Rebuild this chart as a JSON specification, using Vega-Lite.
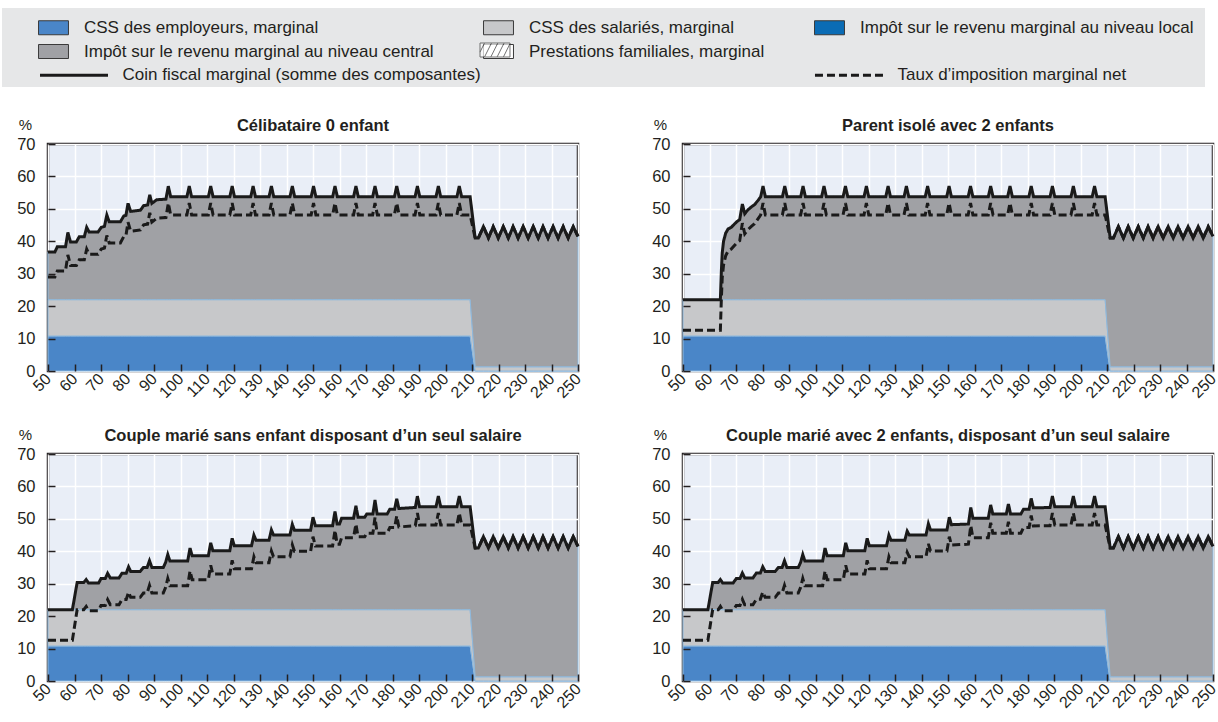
{
"$schema": "https://vega.github.io/schema/vega-lite/v6.json",
"padding": {"left": 2, "top": 8, "right": 4, "bottom": 2},
"background": "#ffffff",
"datasets": {"d": [
{"p":"A","x":50,"emp":10.8,"sal":11.2,"cen":14.7,"tot":36.7,"net":29},
{"p":"A","x":52.6,"emp":10.8,"sal":11.2,"cen":14.7,"tot":36.7,"net":29},
{"p":"A","x":53.5,"emp":10.8,"sal":11.2,"cen":16.3,"tot":38.3,"net":30.8},
{"p":"A","x":56.6,"emp":10.8,"sal":11.2,"cen":16.3,"tot":38.3,"net":30.8},
{"p":"A","x":57.5,"emp":10.8,"sal":11.2,"cen":20.7,"tot":42.7,"net":35.8},
{"p":"A","x":58.5,"emp":10.8,"sal":11.2,"cen":17.8,"tot":39.8,"net":32.5},
{"p":"A","x":60.7,"emp":10.8,"sal":11.2,"cen":17.8,"tot":39.8,"net":32.5},
{"p":"A","x":61.8,"emp":10.8,"sal":11.2,"cen":19.4,"tot":41.4,"net":34.3},
{"p":"A","x":63.7,"emp":10.8,"sal":11.2,"cen":19.4,"tot":41.4,"net":34.3},
{"p":"A","x":64.6,"emp":10.8,"sal":11.2,"cen":22.3,"tot":44.3,"net":37.6},
{"p":"A","x":65.5,"emp":10.8,"sal":11.2,"cen":20.9,"tot":42.9,"net":36},
{"p":"A","x":68.9,"emp":10.8,"sal":11.2,"cen":20.9,"tot":42.9,"net":36},
{"p":"A","x":70.1,"emp":10.8,"sal":11.2,"cen":22.3,"tot":44.3,"net":37.6},
{"p":"A","x":71.3,"emp":10.8,"sal":11.2,"cen":22.6,"tot":44.6,"net":37.9},
{"p":"A","x":72.2,"emp":10.8,"sal":11.2,"cen":26.1,"tot":48.1,"net":41.8},
{"p":"A","x":73.1,"emp":10.8,"sal":11.2,"cen":24,"tot":46,"net":39.5},
{"p":"A","x":77.3,"emp":10.8,"sal":11.2,"cen":24,"tot":46,"net":39.5},
{"p":"A","x":78.6,"emp":10.8,"sal":11.2,"cen":25.8,"tot":47.8,"net":41.5},
{"p":"A","x":79.4,"emp":10.8,"sal":11.2,"cen":26,"tot":48,"net":41.7},
{"p":"A","x":80.2,"emp":10.8,"sal":11.2,"cen":29.7,"tot":51.7,"net":45.9},
{"p":"A","x":81.2,"emp":10.8,"sal":11.2,"cen":27.2,"tot":49.2,"net":43.1},
{"p":"A","x":84.9,"emp":10.8,"sal":11.2,"cen":27.6,"tot":49.6,"net":43.5},
{"p":"A","x":86.1,"emp":10.8,"sal":11.2,"cen":29,"tot":51,"net":45.1},
{"p":"A","x":87.6,"emp":10.8,"sal":11.2,"cen":29.2,"tot":51.2,"net":45.3},
{"p":"A","x":88.4,"emp":10.8,"sal":11.2,"cen":32.3,"tot":54.3,"net":48.8},
{"p":"A","x":89.2,"emp":10.8,"sal":11.2,"cen":29.7,"tot":51.7,"net":45.9},
{"p":"A","x":91,"emp":10.8,"sal":11.2,"cen":30.8,"tot":52.8,"net":47.1},
{"p":"A","x":94.5,"emp":10.8,"sal":11.2,"cen":31,"tot":53,"net":47.3},
{"p":"A","x":95.4,"emp":10.8,"sal":11.2,"cen":35,"tot":57,"net":51.8},
{"p":"A","x":96.3,"emp":10.8,"sal":11.2,"cen":31.7,"tot":53.7,"net":48.1},
{"p":"A","x":102.4,"emp":10.8,"sal":11.2,"cen":31.7,"tot":53.7,"net":48.1},
{"p":"A","x":103.3,"emp":10.8,"sal":11.2,"cen":35,"tot":57,"net":51.8},
{"p":"A","x":104.2,"emp":10.8,"sal":11.2,"cen":31.7,"tot":53.7,"net":48.1},
{"p":"A","x":110.5,"emp":10.8,"sal":11.2,"cen":31.7,"tot":53.7,"net":48.1},
{"p":"A","x":111.4,"emp":10.8,"sal":11.2,"cen":35,"tot":57,"net":51.8},
{"p":"A","x":112.3,"emp":10.8,"sal":11.2,"cen":31.7,"tot":53.7,"net":48.1},
{"p":"A","x":118.6,"emp":10.8,"sal":11.2,"cen":31.7,"tot":53.7,"net":48.1},
{"p":"A","x":119.5,"emp":10.8,"sal":11.2,"cen":35,"tot":57,"net":51.8},
{"p":"A","x":120.4,"emp":10.8,"sal":11.2,"cen":31.7,"tot":53.7,"net":48.1},
{"p":"A","x":126.5,"emp":10.8,"sal":11.2,"cen":31.7,"tot":53.7,"net":48.1},
{"p":"A","x":127.4,"emp":10.8,"sal":11.2,"cen":35,"tot":57,"net":51.8},
{"p":"A","x":128.3,"emp":10.8,"sal":11.2,"cen":31.7,"tot":53.7,"net":48.1},
{"p":"A","x":133.4,"emp":10.8,"sal":11.2,"cen":31.7,"tot":53.7,"net":48.1},
{"p":"A","x":134.3,"emp":10.8,"sal":11.2,"cen":35,"tot":57,"net":51.8},
{"p":"A","x":135.2,"emp":10.8,"sal":11.2,"cen":31.7,"tot":53.7,"net":48.1},
{"p":"A","x":141.3,"emp":10.8,"sal":11.2,"cen":31.7,"tot":53.7,"net":48.1},
{"p":"A","x":142.2,"emp":10.8,"sal":11.2,"cen":35,"tot":57,"net":51.8},
{"p":"A","x":143.1,"emp":10.8,"sal":11.2,"cen":31.7,"tot":53.7,"net":48.1},
{"p":"A","x":149.3,"emp":10.8,"sal":11.2,"cen":31.7,"tot":53.7,"net":48.1},
{"p":"A","x":150.2,"emp":10.8,"sal":11.2,"cen":35,"tot":57,"net":51.8},
{"p":"A","x":151.1,"emp":10.8,"sal":11.2,"cen":31.7,"tot":53.7,"net":48.1},
{"p":"A","x":157.4,"emp":10.8,"sal":11.2,"cen":31.7,"tot":53.7,"net":48.1},
{"p":"A","x":158.3,"emp":10.8,"sal":11.2,"cen":35,"tot":57,"net":51.8},
{"p":"A","x":159.2,"emp":10.8,"sal":11.2,"cen":31.7,"tot":53.7,"net":48.1},
{"p":"A","x":165.3,"emp":10.8,"sal":11.2,"cen":31.7,"tot":53.7,"net":48.1},
{"p":"A","x":166.2,"emp":10.8,"sal":11.2,"cen":35,"tot":57,"net":51.8},
{"p":"A","x":167.1,"emp":10.8,"sal":11.2,"cen":31.7,"tot":53.7,"net":48.1},
{"p":"A","x":172.5,"emp":10.8,"sal":11.2,"cen":31.7,"tot":53.7,"net":48.1},
{"p":"A","x":173.4,"emp":10.8,"sal":11.2,"cen":35,"tot":57,"net":51.8},
{"p":"A","x":174.3,"emp":10.8,"sal":11.2,"cen":31.7,"tot":53.7,"net":48.1},
{"p":"A","x":180.7,"emp":10.8,"sal":11.2,"cen":31.7,"tot":53.7,"net":48.1},
{"p":"A","x":181.6,"emp":10.8,"sal":11.2,"cen":35,"tot":57,"net":51.8},
{"p":"A","x":182.5,"emp":10.8,"sal":11.2,"cen":31.7,"tot":53.7,"net":48.1},
{"p":"A","x":188.5,"emp":10.8,"sal":11.2,"cen":31.7,"tot":53.7,"net":48.1},
{"p":"A","x":189.4,"emp":10.8,"sal":11.2,"cen":35,"tot":57,"net":51.8},
{"p":"A","x":190.3,"emp":10.8,"sal":11.2,"cen":31.7,"tot":53.7,"net":48.1},
{"p":"A","x":196.4,"emp":10.8,"sal":11.2,"cen":31.7,"tot":53.7,"net":48.1},
{"p":"A","x":197.3,"emp":10.8,"sal":11.2,"cen":35,"tot":57,"net":51.8},
{"p":"A","x":198.2,"emp":10.8,"sal":11.2,"cen":31.7,"tot":53.7,"net":48.1},
{"p":"A","x":204.3,"emp":10.8,"sal":11.2,"cen":31.7,"tot":53.7,"net":48.1},
{"p":"A","x":205.2,"emp":10.8,"sal":11.2,"cen":35,"tot":57,"net":51.8},
{"p":"A","x":206.1,"emp":10.8,"sal":11.2,"cen":31.7,"tot":53.7,"net":48.1},
{"p":"A","x":209.3,"emp":10.8,"sal":11.2,"cen":31.7,"tot":53.7,"net":48.1},
{"p":"A","x":211.2,"emp":0,"sal":1.3,"cen":39.7,"tot":41,"net":41},
{"p":"A","x":212.4,"emp":0,"sal":1.3,"cen":39.7,"tot":41,"net":41},
{"p":"A","x":214.3,"emp":0,"sal":1.3,"cen":43.2,"tot":44.5,"net":44.5},
{"p":"A","x":216.2,"emp":0,"sal":1.3,"cen":39.7,"tot":41,"net":41},
{"p":"A","x":218,"emp":0,"sal":1.3,"cen":43.2,"tot":44.5,"net":44.5},
{"p":"A","x":219.9,"emp":0,"sal":1.3,"cen":39.7,"tot":41,"net":41},
{"p":"A","x":221.8,"emp":0,"sal":1.3,"cen":43.2,"tot":44.5,"net":44.5},
{"p":"A","x":223.7,"emp":0,"sal":1.3,"cen":39.7,"tot":41,"net":41},
{"p":"A","x":225.5,"emp":0,"sal":1.3,"cen":43.2,"tot":44.5,"net":44.5},
{"p":"A","x":227.4,"emp":0,"sal":1.3,"cen":39.7,"tot":41,"net":41},
{"p":"A","x":229.3,"emp":0,"sal":1.3,"cen":43.2,"tot":44.5,"net":44.5},
{"p":"A","x":231.2,"emp":0,"sal":1.3,"cen":39.7,"tot":41,"net":41},
{"p":"A","x":233.1,"emp":0,"sal":1.3,"cen":43.2,"tot":44.5,"net":44.5},
{"p":"A","x":235,"emp":0,"sal":1.3,"cen":39.7,"tot":41,"net":41},
{"p":"A","x":236.8,"emp":0,"sal":1.3,"cen":43.2,"tot":44.5,"net":44.5},
{"p":"A","x":238.7,"emp":0,"sal":1.3,"cen":39.7,"tot":41,"net":41},
{"p":"A","x":240.6,"emp":0,"sal":1.3,"cen":43.2,"tot":44.5,"net":44.5},
{"p":"A","x":242.5,"emp":0,"sal":1.3,"cen":39.7,"tot":41,"net":41},
{"p":"A","x":244.4,"emp":0,"sal":1.3,"cen":43.2,"tot":44.5,"net":44.5},
{"p":"A","x":246.3,"emp":0,"sal":1.3,"cen":39.7,"tot":41,"net":41},
{"p":"A","x":248.2,"emp":0,"sal":1.3,"cen":43.2,"tot":44.5,"net":44.5},
{"p":"A","x":250,"emp":0,"sal":1.3,"cen":40.2,"tot":41.5,"net":41.5},

{"p":"B","x":50,"emp":10.8,"sal":11.2,"cen":0,"tot":22,"net":12.6},
{"p":"B","x":64.1,"emp":10.8,"sal":11.2,"cen":0,"tot":22,"net":12.6},
{"p":"B","x":64.5,"emp":10.8,"sal":11.2,"cen":9.2,"tot":31.2,"net":22.9},
{"p":"B","x":64.8,"emp":10.8,"sal":11.2,"cen":14.4,"tot":36.4,"net":28.7},
{"p":"B","x":65.3,"emp":10.8,"sal":11.2,"cen":18,"tot":40,"net":32.7},
{"p":"B","x":66.1,"emp":10.8,"sal":11.2,"cen":20.5,"tot":42.5,"net":35.5},
{"p":"B","x":67,"emp":10.8,"sal":11.2,"cen":21.8,"tot":43.8,"net":37},
{"p":"B","x":68.2,"emp":10.8,"sal":11.2,"cen":22.3,"tot":44.3,"net":37.6},
{"p":"B","x":69.5,"emp":10.8,"sal":11.2,"cen":23.4,"tot":45.4,"net":38.8},
{"p":"B","x":70.4,"emp":10.8,"sal":11.2,"cen":24.1,"tot":46.1,"net":39.6},
{"p":"B","x":71.4,"emp":10.8,"sal":11.2,"cen":24.7,"tot":46.7,"net":40.2},
{"p":"B","x":72.4,"emp":10.8,"sal":11.2,"cen":29.5,"tot":51.5,"net":45.6},
{"p":"B","x":73.3,"emp":10.8,"sal":11.2,"cen":26.5,"tot":48.5,"net":42.3},
{"p":"B","x":74.5,"emp":10.8,"sal":11.2,"cen":27.7,"tot":49.7,"net":43.6},
{"p":"B","x":75.8,"emp":10.8,"sal":11.2,"cen":28.6,"tot":50.6,"net":44.6},
{"p":"B","x":77,"emp":10.8,"sal":11.2,"cen":29.3,"tot":51.3,"net":45.4},
{"p":"B","x":78.3,"emp":10.8,"sal":11.2,"cen":30.6,"tot":52.6,"net":46.9},
{"p":"B","x":79.3,"emp":10.8,"sal":11.2,"cen":31.7,"tot":53.7,"net":48.1},
{"p":"B","x":80.2,"emp":10.8,"sal":11.2,"cen":35,"tot":57,"net":51.8},
{"p":"B","x":81.1,"emp":10.8,"sal":11.2,"cen":31.7,"tot":53.7,"net":48.1},
{"p":"B","x":87.5,"emp":10.8,"sal":11.2,"cen":31.7,"tot":53.7,"net":48.1},
{"p":"B","x":88.4,"emp":10.8,"sal":11.2,"cen":35,"tot":57,"net":51.8},
{"p":"B","x":89.3,"emp":10.8,"sal":11.2,"cen":31.7,"tot":53.7,"net":48.1},
{"p":"B","x":94.4,"emp":10.8,"sal":11.2,"cen":31.7,"tot":53.7,"net":48.1},
{"p":"B","x":95.3,"emp":10.8,"sal":11.2,"cen":35,"tot":57,"net":51.8},
{"p":"B","x":96.2,"emp":10.8,"sal":11.2,"cen":31.7,"tot":53.7,"net":48.1},
{"p":"B","x":102.3,"emp":10.8,"sal":11.2,"cen":31.7,"tot":53.7,"net":48.1},
{"p":"B","x":103.2,"emp":10.8,"sal":11.2,"cen":35,"tot":57,"net":51.8},
{"p":"B","x":104.1,"emp":10.8,"sal":11.2,"cen":31.7,"tot":53.7,"net":48.1},
{"p":"B","x":110.4,"emp":10.8,"sal":11.2,"cen":31.7,"tot":53.7,"net":48.1},
{"p":"B","x":111.3,"emp":10.8,"sal":11.2,"cen":35,"tot":57,"net":51.8},
{"p":"B","x":112.2,"emp":10.8,"sal":11.2,"cen":31.7,"tot":53.7,"net":48.1},
{"p":"B","x":118.3,"emp":10.8,"sal":11.2,"cen":31.7,"tot":53.7,"net":48.1},
{"p":"B","x":119.2,"emp":10.8,"sal":11.2,"cen":35,"tot":57,"net":51.8},
{"p":"B","x":120.1,"emp":10.8,"sal":11.2,"cen":31.7,"tot":53.7,"net":48.1},
{"p":"B","x":126.5,"emp":10.8,"sal":11.2,"cen":31.7,"tot":53.7,"net":48.1},
{"p":"B","x":127.4,"emp":10.8,"sal":11.2,"cen":35,"tot":57,"net":51.8},
{"p":"B","x":128.3,"emp":10.8,"sal":11.2,"cen":31.7,"tot":53.7,"net":48.1},
{"p":"B","x":133.4,"emp":10.8,"sal":11.2,"cen":31.7,"tot":53.7,"net":48.1},
{"p":"B","x":134.3,"emp":10.8,"sal":11.2,"cen":35,"tot":57,"net":51.8},
{"p":"B","x":135.2,"emp":10.8,"sal":11.2,"cen":31.7,"tot":53.7,"net":48.1},
{"p":"B","x":141.4,"emp":10.8,"sal":11.2,"cen":31.7,"tot":53.7,"net":48.1},
{"p":"B","x":142.3,"emp":10.8,"sal":11.2,"cen":35,"tot":57,"net":51.8},
{"p":"B","x":143.2,"emp":10.8,"sal":11.2,"cen":31.7,"tot":53.7,"net":48.1},
{"p":"B","x":149.5,"emp":10.8,"sal":11.2,"cen":31.7,"tot":53.7,"net":48.1},
{"p":"B","x":150.4,"emp":10.8,"sal":11.2,"cen":35,"tot":57,"net":51.8},
{"p":"B","x":151.3,"emp":10.8,"sal":11.2,"cen":31.7,"tot":53.7,"net":48.1},
{"p":"B","x":157.6,"emp":10.8,"sal":11.2,"cen":31.7,"tot":53.7,"net":48.1},
{"p":"B","x":158.5,"emp":10.8,"sal":11.2,"cen":35,"tot":57,"net":51.8},
{"p":"B","x":159.4,"emp":10.8,"sal":11.2,"cen":31.7,"tot":53.7,"net":48.1},
{"p":"B","x":165.2,"emp":10.8,"sal":11.2,"cen":31.7,"tot":53.7,"net":48.1},
{"p":"B","x":166.1,"emp":10.8,"sal":11.2,"cen":35,"tot":57,"net":51.8},
{"p":"B","x":167,"emp":10.8,"sal":11.2,"cen":31.7,"tot":53.7,"net":48.1},
{"p":"B","x":172.5,"emp":10.8,"sal":11.2,"cen":31.7,"tot":53.7,"net":48.1},
{"p":"B","x":173.4,"emp":10.8,"sal":11.2,"cen":35,"tot":57,"net":51.8},
{"p":"B","x":174.3,"emp":10.8,"sal":11.2,"cen":31.7,"tot":53.7,"net":48.1},
{"p":"B","x":180.5,"emp":10.8,"sal":11.2,"cen":31.7,"tot":53.7,"net":48.1},
{"p":"B","x":181.4,"emp":10.8,"sal":11.2,"cen":35,"tot":57,"net":51.8},
{"p":"B","x":182.3,"emp":10.8,"sal":11.2,"cen":31.7,"tot":53.7,"net":48.1},
{"p":"B","x":188.5,"emp":10.8,"sal":11.2,"cen":31.7,"tot":53.7,"net":48.1},
{"p":"B","x":189.4,"emp":10.8,"sal":11.2,"cen":35,"tot":57,"net":51.8},
{"p":"B","x":190.3,"emp":10.8,"sal":11.2,"cen":31.7,"tot":53.7,"net":48.1},
{"p":"B","x":196.4,"emp":10.8,"sal":11.2,"cen":31.7,"tot":53.7,"net":48.1},
{"p":"B","x":197.3,"emp":10.8,"sal":11.2,"cen":35,"tot":57,"net":51.8},
{"p":"B","x":198.2,"emp":10.8,"sal":11.2,"cen":31.7,"tot":53.7,"net":48.1},
{"p":"B","x":204.4,"emp":10.8,"sal":11.2,"cen":31.7,"tot":53.7,"net":48.1},
{"p":"B","x":205.3,"emp":10.8,"sal":11.2,"cen":35,"tot":57,"net":51.8},
{"p":"B","x":206.2,"emp":10.8,"sal":11.2,"cen":31.7,"tot":53.7,"net":48.1},
{"p":"B","x":209.3,"emp":10.8,"sal":11.2,"cen":31.7,"tot":53.7,"net":48.1},
{"p":"B","x":211.2,"emp":0,"sal":1.3,"cen":39.7,"tot":41,"net":41},
{"p":"B","x":212.4,"emp":0,"sal":1.3,"cen":39.7,"tot":41,"net":41},
{"p":"B","x":214.3,"emp":0,"sal":1.3,"cen":43.2,"tot":44.5,"net":44.5},
{"p":"B","x":216.2,"emp":0,"sal":1.3,"cen":39.7,"tot":41,"net":41},
{"p":"B","x":218,"emp":0,"sal":1.3,"cen":43.2,"tot":44.5,"net":44.5},
{"p":"B","x":219.9,"emp":0,"sal":1.3,"cen":39.7,"tot":41,"net":41},
{"p":"B","x":221.8,"emp":0,"sal":1.3,"cen":43.2,"tot":44.5,"net":44.5},
{"p":"B","x":223.7,"emp":0,"sal":1.3,"cen":39.7,"tot":41,"net":41},
{"p":"B","x":225.5,"emp":0,"sal":1.3,"cen":43.2,"tot":44.5,"net":44.5},
{"p":"B","x":227.4,"emp":0,"sal":1.3,"cen":39.7,"tot":41,"net":41},
{"p":"B","x":229.3,"emp":0,"sal":1.3,"cen":43.2,"tot":44.5,"net":44.5},
{"p":"B","x":231.2,"emp":0,"sal":1.3,"cen":39.7,"tot":41,"net":41},
{"p":"B","x":233.1,"emp":0,"sal":1.3,"cen":43.2,"tot":44.5,"net":44.5},
{"p":"B","x":235,"emp":0,"sal":1.3,"cen":39.7,"tot":41,"net":41},
{"p":"B","x":236.8,"emp":0,"sal":1.3,"cen":43.2,"tot":44.5,"net":44.5},
{"p":"B","x":238.7,"emp":0,"sal":1.3,"cen":39.7,"tot":41,"net":41},
{"p":"B","x":240.6,"emp":0,"sal":1.3,"cen":43.2,"tot":44.5,"net":44.5},
{"p":"B","x":242.5,"emp":0,"sal":1.3,"cen":39.7,"tot":41,"net":41},
{"p":"B","x":244.4,"emp":0,"sal":1.3,"cen":43.2,"tot":44.5,"net":44.5},
{"p":"B","x":246.3,"emp":0,"sal":1.3,"cen":39.7,"tot":41,"net":41},
{"p":"B","x":248.2,"emp":0,"sal":1.3,"cen":43.2,"tot":44.5,"net":44.5},
{"p":"B","x":250,"emp":0,"sal":1.3,"cen":40.2,"tot":41.5,"net":41.5},

{"p":"C","x":50,"emp":10.8,"sal":11.2,"cen":0,"tot":22,"net":12.6},
{"p":"C","x":59.2,"emp":10.8,"sal":11.2,"cen":0,"tot":22,"net":12.6},
{"p":"C","x":61,"emp":10.8,"sal":11.2,"cen":8.4,"tot":30.4,"net":22},
{"p":"C","x":63.5,"emp":10.8,"sal":11.2,"cen":8.4,"tot":30.4,"net":22},
{"p":"C","x":64.4,"emp":10.8,"sal":11.2,"cen":9.3,"tot":31.3,"net":23},
{"p":"C","x":65.3,"emp":10.8,"sal":11.2,"cen":8.2,"tot":30.2,"net":21.7},
{"p":"C","x":69.1,"emp":10.8,"sal":11.2,"cen":8.2,"tot":30.2,"net":21.7},
{"p":"C","x":70,"emp":10.8,"sal":11.2,"cen":9.6,"tot":31.6,"net":23.3},
{"p":"C","x":71.6,"emp":10.8,"sal":11.2,"cen":9.6,"tot":31.6,"net":23.3},
{"p":"C","x":72.5,"emp":10.8,"sal":11.2,"cen":11.2,"tot":33.2,"net":25.1},
{"p":"C","x":73.5,"emp":10.8,"sal":11.2,"cen":9.8,"tot":31.8,"net":23.5},
{"p":"C","x":76.8,"emp":10.8,"sal":11.2,"cen":9.8,"tot":31.8,"net":23.5},
{"p":"C","x":77.9,"emp":10.8,"sal":11.2,"cen":11.2,"tot":33.2,"net":25.1},
{"p":"C","x":79.5,"emp":10.8,"sal":11.2,"cen":11.2,"tot":33.2,"net":25.1},
{"p":"C","x":80.4,"emp":10.8,"sal":11.2,"cen":13.2,"tot":35.2,"net":27.4},
{"p":"C","x":81.2,"emp":10.8,"sal":11.2,"cen":11.8,"tot":33.8,"net":25.8},
{"p":"C","x":84.8,"emp":10.8,"sal":11.2,"cen":11.8,"tot":33.8,"net":25.8},
{"p":"C","x":86,"emp":10.8,"sal":11.2,"cen":13,"tot":35,"net":27.1},
{"p":"C","x":87.4,"emp":10.8,"sal":11.2,"cen":13,"tot":35,"net":27.1},
{"p":"C","x":88.3,"emp":10.8,"sal":11.2,"cen":15.1,"tot":37.1,"net":29.5},
{"p":"C","x":89.2,"emp":10.8,"sal":11.2,"cen":13,"tot":35,"net":27.1},
{"p":"C","x":93.5,"emp":10.8,"sal":11.2,"cen":13,"tot":35,"net":27.1},
{"p":"C","x":94.4,"emp":10.8,"sal":11.2,"cen":14.6,"tot":36.6,"net":28.9},
{"p":"C","x":95.2,"emp":10.8,"sal":11.2,"cen":17,"tot":39,"net":31.6},
{"p":"C","x":96,"emp":10.8,"sal":11.2,"cen":15,"tot":37,"net":29.4},
{"p":"C","x":102.7,"emp":10.8,"sal":11.2,"cen":15,"tot":37,"net":29.4},
{"p":"C","x":103.6,"emp":10.8,"sal":11.2,"cen":19,"tot":41,"net":33.9},
{"p":"C","x":104.4,"emp":10.8,"sal":11.2,"cen":16.6,"tot":38.6,"net":31.2},
{"p":"C","x":110.5,"emp":10.8,"sal":11.2,"cen":16.6,"tot":38.6,"net":31.2},
{"p":"C","x":111.4,"emp":10.8,"sal":11.2,"cen":20.6,"tot":42.6,"net":35.7},
{"p":"C","x":112.2,"emp":10.8,"sal":11.2,"cen":18.2,"tot":40.2,"net":33},
{"p":"C","x":118.6,"emp":10.8,"sal":11.2,"cen":18.2,"tot":40.2,"net":33},
{"p":"C","x":119.5,"emp":10.8,"sal":11.2,"cen":22,"tot":44,"net":37.2},
{"p":"C","x":120.3,"emp":10.8,"sal":11.2,"cen":19.7,"tot":41.7,"net":34.6},
{"p":"C","x":126.8,"emp":10.8,"sal":11.2,"cen":19.7,"tot":41.7,"net":34.6},
{"p":"C","x":127.7,"emp":10.8,"sal":11.2,"cen":23,"tot":45,"net":38.3},
{"p":"C","x":128.5,"emp":10.8,"sal":11.2,"cen":21.4,"tot":43.4,"net":36.5},
{"p":"C","x":133.4,"emp":10.8,"sal":11.2,"cen":21.4,"tot":43.4,"net":36.5},
{"p":"C","x":134.3,"emp":10.8,"sal":11.2,"cen":24.6,"tot":46.6,"net":40.1},
{"p":"C","x":135.1,"emp":10.8,"sal":11.2,"cen":23,"tot":45,"net":38.3},
{"p":"C","x":141.3,"emp":10.8,"sal":11.2,"cen":23,"tot":45,"net":38.3},
{"p":"C","x":142.2,"emp":10.8,"sal":11.2,"cen":26.3,"tot":48.3,"net":42},
{"p":"C","x":143,"emp":10.8,"sal":11.2,"cen":24.5,"tot":46.5,"net":40},
{"p":"C","x":149.1,"emp":10.8,"sal":11.2,"cen":24.5,"tot":46.5,"net":40},
{"p":"C","x":150,"emp":10.8,"sal":11.2,"cen":28.5,"tot":50.5,"net":44.5},
{"p":"C","x":150.9,"emp":10.8,"sal":11.2,"cen":25.9,"tot":47.9,"net":41.6},
{"p":"C","x":157.4,"emp":10.8,"sal":11.2,"cen":25.9,"tot":47.9,"net":41.6},
{"p":"C","x":158.3,"emp":10.8,"sal":11.2,"cen":30.3,"tot":52.3,"net":46.5},
{"p":"C","x":159.1,"emp":10.8,"sal":11.2,"cen":26.4,"tot":48.4,"net":42.2},
{"p":"C","x":160,"emp":10.8,"sal":11.2,"cen":26.4,"tot":48.4,"net":42.2},
{"p":"C","x":160.8,"emp":10.8,"sal":11.2,"cen":28.2,"tot":50.2,"net":44.2},
{"p":"C","x":165.3,"emp":10.8,"sal":11.2,"cen":28.2,"tot":50.2,"net":44.2},
{"p":"C","x":166.2,"emp":10.8,"sal":11.2,"cen":32,"tot":54,"net":48.4},
{"p":"C","x":167,"emp":10.8,"sal":11.2,"cen":28.5,"tot":50.5,"net":44.5},
{"p":"C","x":169.5,"emp":10.8,"sal":11.2,"cen":28.5,"tot":50.5,"net":44.5},
{"p":"C","x":170.3,"emp":10.8,"sal":11.2,"cen":29.5,"tot":51.5,"net":45.6},
{"p":"C","x":172.6,"emp":10.8,"sal":11.2,"cen":29.5,"tot":51.5,"net":45.6},
{"p":"C","x":173.4,"emp":10.8,"sal":11.2,"cen":33.8,"tot":55.8,"net":50.4},
{"p":"C","x":174.2,"emp":10.8,"sal":11.2,"cen":29.5,"tot":51.5,"net":45.6},
{"p":"C","x":178,"emp":10.8,"sal":11.2,"cen":29.5,"tot":51.5,"net":45.6},
{"p":"C","x":179,"emp":10.8,"sal":11.2,"cen":31,"tot":53,"net":47.3},
{"p":"C","x":180.8,"emp":10.8,"sal":11.2,"cen":31,"tot":53,"net":47.3},
{"p":"C","x":181.6,"emp":10.8,"sal":11.2,"cen":34.2,"tot":56.2,"net":50.9},
{"p":"C","x":182.4,"emp":10.8,"sal":11.2,"cen":31.2,"tot":53.2,"net":47.5},
{"p":"C","x":188.6,"emp":10.8,"sal":11.2,"cen":31.5,"tot":53.5,"net":47.9},
{"p":"C","x":189.4,"emp":10.8,"sal":11.2,"cen":35,"tot":57,"net":51.8},
{"p":"C","x":190.2,"emp":10.8,"sal":11.2,"cen":31.7,"tot":53.7,"net":48.1},
{"p":"C","x":196.4,"emp":10.8,"sal":11.2,"cen":31.7,"tot":53.7,"net":48.1},
{"p":"C","x":197.3,"emp":10.8,"sal":11.2,"cen":35,"tot":57,"net":51.8},
{"p":"C","x":198.2,"emp":10.8,"sal":11.2,"cen":31.7,"tot":53.7,"net":48.1},
{"p":"C","x":204.3,"emp":10.8,"sal":11.2,"cen":31.7,"tot":53.7,"net":48.1},
{"p":"C","x":205.2,"emp":10.8,"sal":11.2,"cen":35,"tot":57,"net":51.8},
{"p":"C","x":206.1,"emp":10.8,"sal":11.2,"cen":31.7,"tot":53.7,"net":48.1},
{"p":"C","x":209.3,"emp":10.8,"sal":11.2,"cen":31.7,"tot":53.7,"net":48.1},
{"p":"C","x":211.2,"emp":0,"sal":1.3,"cen":39.7,"tot":41,"net":41},
{"p":"C","x":212.4,"emp":0,"sal":1.3,"cen":39.7,"tot":41,"net":41},
{"p":"C","x":214.3,"emp":0,"sal":1.3,"cen":43.2,"tot":44.5,"net":44.5},
{"p":"C","x":216.2,"emp":0,"sal":1.3,"cen":39.7,"tot":41,"net":41},
{"p":"C","x":218,"emp":0,"sal":1.3,"cen":43.2,"tot":44.5,"net":44.5},
{"p":"C","x":219.9,"emp":0,"sal":1.3,"cen":39.7,"tot":41,"net":41},
{"p":"C","x":221.8,"emp":0,"sal":1.3,"cen":43.2,"tot":44.5,"net":44.5},
{"p":"C","x":223.7,"emp":0,"sal":1.3,"cen":39.7,"tot":41,"net":41},
{"p":"C","x":225.5,"emp":0,"sal":1.3,"cen":43.2,"tot":44.5,"net":44.5},
{"p":"C","x":227.4,"emp":0,"sal":1.3,"cen":39.7,"tot":41,"net":41},
{"p":"C","x":229.3,"emp":0,"sal":1.3,"cen":43.2,"tot":44.5,"net":44.5},
{"p":"C","x":231.2,"emp":0,"sal":1.3,"cen":39.7,"tot":41,"net":41},
{"p":"C","x":233.1,"emp":0,"sal":1.3,"cen":43.2,"tot":44.5,"net":44.5},
{"p":"C","x":235,"emp":0,"sal":1.3,"cen":39.7,"tot":41,"net":41},
{"p":"C","x":236.8,"emp":0,"sal":1.3,"cen":43.2,"tot":44.5,"net":44.5},
{"p":"C","x":238.7,"emp":0,"sal":1.3,"cen":39.7,"tot":41,"net":41},
{"p":"C","x":240.6,"emp":0,"sal":1.3,"cen":43.2,"tot":44.5,"net":44.5},
{"p":"C","x":242.5,"emp":0,"sal":1.3,"cen":39.7,"tot":41,"net":41},
{"p":"C","x":244.4,"emp":0,"sal":1.3,"cen":43.2,"tot":44.5,"net":44.5},
{"p":"C","x":246.3,"emp":0,"sal":1.3,"cen":39.7,"tot":41,"net":41},
{"p":"C","x":248.2,"emp":0,"sal":1.3,"cen":43.2,"tot":44.5,"net":44.5},
{"p":"C","x":250,"emp":0,"sal":1.3,"cen":40.2,"tot":41.5,"net":41.5},

{"p":"D","x":50,"emp":10.8,"sal":11.2,"cen":0,"tot":22,"net":12.6},
{"p":"D","x":59.4,"emp":10.8,"sal":11.2,"cen":0,"tot":22,"net":12.6},
{"p":"D","x":61.2,"emp":10.8,"sal":11.2,"cen":8.4,"tot":30.4,"net":22},
{"p":"D","x":63.3,"emp":10.8,"sal":11.2,"cen":8.4,"tot":30.4,"net":22},
{"p":"D","x":64.1,"emp":10.8,"sal":11.2,"cen":9.3,"tot":31.3,"net":23},
{"p":"D","x":65,"emp":10.8,"sal":11.2,"cen":8.2,"tot":30.2,"net":21.7},
{"p":"D","x":68.9,"emp":10.8,"sal":11.2,"cen":8.2,"tot":30.2,"net":21.7},
{"p":"D","x":70.1,"emp":10.8,"sal":11.2,"cen":9.6,"tot":31.6,"net":23.3},
{"p":"D","x":71.5,"emp":10.8,"sal":11.2,"cen":9.6,"tot":31.6,"net":23.3},
{"p":"D","x":72.4,"emp":10.8,"sal":11.2,"cen":11.3,"tot":33.3,"net":25.2},
{"p":"D","x":73.3,"emp":10.8,"sal":11.2,"cen":9.8,"tot":31.8,"net":23.5},
{"p":"D","x":76.4,"emp":10.8,"sal":11.2,"cen":9.8,"tot":31.8,"net":23.5},
{"p":"D","x":77.7,"emp":10.8,"sal":11.2,"cen":11.3,"tot":33.3,"net":25.2},
{"p":"D","x":79.2,"emp":10.8,"sal":11.2,"cen":11.3,"tot":33.3,"net":25.2},
{"p":"D","x":80.1,"emp":10.8,"sal":11.2,"cen":13.2,"tot":35.2,"net":27.4},
{"p":"D","x":81,"emp":10.8,"sal":11.2,"cen":11.8,"tot":33.8,"net":25.8},
{"p":"D","x":84.8,"emp":10.8,"sal":11.2,"cen":11.8,"tot":33.8,"net":25.8},
{"p":"D","x":86,"emp":10.8,"sal":11.2,"cen":13,"tot":35,"net":27.1},
{"p":"D","x":87.4,"emp":10.8,"sal":11.2,"cen":13,"tot":35,"net":27.1},
{"p":"D","x":88.3,"emp":10.8,"sal":11.2,"cen":15.1,"tot":37.1,"net":29.5},
{"p":"D","x":89.2,"emp":10.8,"sal":11.2,"cen":13,"tot":35,"net":27.1},
{"p":"D","x":93.5,"emp":10.8,"sal":11.2,"cen":13,"tot":35,"net":27.1},
{"p":"D","x":94.4,"emp":10.8,"sal":11.2,"cen":14.6,"tot":36.6,"net":28.9},
{"p":"D","x":95.2,"emp":10.8,"sal":11.2,"cen":17,"tot":39,"net":31.6},
{"p":"D","x":96,"emp":10.8,"sal":11.2,"cen":15,"tot":37,"net":29.4},
{"p":"D","x":102.7,"emp":10.8,"sal":11.2,"cen":15,"tot":37,"net":29.4},
{"p":"D","x":103.6,"emp":10.8,"sal":11.2,"cen":19,"tot":41,"net":33.9},
{"p":"D","x":104.4,"emp":10.8,"sal":11.2,"cen":16.6,"tot":38.6,"net":31.2},
{"p":"D","x":110.5,"emp":10.8,"sal":11.2,"cen":16.6,"tot":38.6,"net":31.2},
{"p":"D","x":111.4,"emp":10.8,"sal":11.2,"cen":20.6,"tot":42.6,"net":35.7},
{"p":"D","x":112.2,"emp":10.8,"sal":11.2,"cen":18.2,"tot":40.2,"net":33},
{"p":"D","x":118.6,"emp":10.8,"sal":11.2,"cen":18.2,"tot":40.2,"net":33},
{"p":"D","x":119.5,"emp":10.8,"sal":11.2,"cen":22,"tot":44,"net":37.2},
{"p":"D","x":120.3,"emp":10.8,"sal":11.2,"cen":19.7,"tot":41.7,"net":34.6},
{"p":"D","x":126.8,"emp":10.8,"sal":11.2,"cen":19.7,"tot":41.7,"net":34.6},
{"p":"D","x":127.7,"emp":10.8,"sal":11.2,"cen":23,"tot":45,"net":38.3},
{"p":"D","x":128.5,"emp":10.8,"sal":11.2,"cen":21.4,"tot":43.4,"net":36.5},
{"p":"D","x":133.7,"emp":10.8,"sal":11.2,"cen":21.4,"tot":43.4,"net":36.5},
{"p":"D","x":134.6,"emp":10.8,"sal":11.2,"cen":24.2,"tot":46.2,"net":39.7},
{"p":"D","x":135.4,"emp":10.8,"sal":11.2,"cen":23,"tot":45,"net":38.3},
{"p":"D","x":141.7,"emp":10.8,"sal":11.2,"cen":23,"tot":45,"net":38.3},
{"p":"D","x":142.6,"emp":10.8,"sal":11.2,"cen":26.5,"tot":48.5,"net":42.3},
{"p":"D","x":143.4,"emp":10.8,"sal":11.2,"cen":24.6,"tot":46.6,"net":40.1},
{"p":"D","x":149.6,"emp":10.8,"sal":11.2,"cen":24.6,"tot":46.6,"net":40.1},
{"p":"D","x":150.5,"emp":10.8,"sal":11.2,"cen":28.5,"tot":50.5,"net":44.5},
{"p":"D","x":151.3,"emp":10.8,"sal":11.2,"cen":26.2,"tot":48.2,"net":41.9},
{"p":"D","x":157.7,"emp":10.8,"sal":11.2,"cen":26.4,"tot":48.4,"net":42.2},
{"p":"D","x":158.6,"emp":10.8,"sal":11.2,"cen":31.5,"tot":53.5,"net":47.9},
{"p":"D","x":159.4,"emp":10.8,"sal":11.2,"cen":28.2,"tot":50.2,"net":44.2},
{"p":"D","x":165.2,"emp":10.8,"sal":11.2,"cen":28.2,"tot":50.2,"net":44.2},
{"p":"D","x":166.1,"emp":10.8,"sal":11.2,"cen":32.3,"tot":54.3,"net":48.8},
{"p":"D","x":166.9,"emp":10.8,"sal":11.2,"cen":29.5,"tot":51.5,"net":45.6},
{"p":"D","x":172,"emp":10.8,"sal":11.2,"cen":29.5,"tot":51.5,"net":45.6},
{"p":"D","x":172.8,"emp":10.8,"sal":11.2,"cen":32.6,"tot":54.6,"net":49.1},
{"p":"D","x":173.6,"emp":10.8,"sal":11.2,"cen":29.5,"tot":51.5,"net":45.6},
{"p":"D","x":177.5,"emp":10.8,"sal":11.2,"cen":29.5,"tot":51.5,"net":45.6},
{"p":"D","x":178.5,"emp":10.8,"sal":11.2,"cen":31,"tot":53,"net":47.3},
{"p":"D","x":180.6,"emp":10.8,"sal":11.2,"cen":31,"tot":53,"net":47.3},
{"p":"D","x":181.4,"emp":10.8,"sal":11.2,"cen":34.3,"tot":56.3,"net":51},
{"p":"D","x":182.2,"emp":10.8,"sal":11.2,"cen":31.4,"tot":53.4,"net":47.8},
{"p":"D","x":188.5,"emp":10.8,"sal":11.2,"cen":31.5,"tot":53.5,"net":47.9},
{"p":"D","x":189.4,"emp":10.8,"sal":11.2,"cen":35,"tot":57,"net":51.8},
{"p":"D","x":190.3,"emp":10.8,"sal":11.2,"cen":31.7,"tot":53.7,"net":48.1},
{"p":"D","x":196.4,"emp":10.8,"sal":11.2,"cen":31.7,"tot":53.7,"net":48.1},
{"p":"D","x":197.3,"emp":10.8,"sal":11.2,"cen":35,"tot":57,"net":51.8},
{"p":"D","x":198.2,"emp":10.8,"sal":11.2,"cen":31.7,"tot":53.7,"net":48.1},
{"p":"D","x":204.4,"emp":10.8,"sal":11.2,"cen":31.7,"tot":53.7,"net":48.1},
{"p":"D","x":205.3,"emp":10.8,"sal":11.2,"cen":35,"tot":57,"net":51.8},
{"p":"D","x":206.2,"emp":10.8,"sal":11.2,"cen":31.7,"tot":53.7,"net":48.1},
{"p":"D","x":209.3,"emp":10.8,"sal":11.2,"cen":31.7,"tot":53.7,"net":48.1},
{"p":"D","x":211.2,"emp":0,"sal":1.3,"cen":39.7,"tot":41,"net":41},
{"p":"D","x":212.4,"emp":0,"sal":1.3,"cen":39.7,"tot":41,"net":41},
{"p":"D","x":214.3,"emp":0,"sal":1.3,"cen":43.2,"tot":44.5,"net":44.5},
{"p":"D","x":216.2,"emp":0,"sal":1.3,"cen":39.7,"tot":41,"net":41},
{"p":"D","x":218,"emp":0,"sal":1.3,"cen":43.2,"tot":44.5,"net":44.5},
{"p":"D","x":219.9,"emp":0,"sal":1.3,"cen":39.7,"tot":41,"net":41},
{"p":"D","x":221.8,"emp":0,"sal":1.3,"cen":43.2,"tot":44.5,"net":44.5},
{"p":"D","x":223.7,"emp":0,"sal":1.3,"cen":39.7,"tot":41,"net":41},
{"p":"D","x":225.5,"emp":0,"sal":1.3,"cen":43.2,"tot":44.5,"net":44.5},
{"p":"D","x":227.4,"emp":0,"sal":1.3,"cen":39.7,"tot":41,"net":41},
{"p":"D","x":229.3,"emp":0,"sal":1.3,"cen":43.2,"tot":44.5,"net":44.5},
{"p":"D","x":231.2,"emp":0,"sal":1.3,"cen":39.7,"tot":41,"net":41},
{"p":"D","x":233.1,"emp":0,"sal":1.3,"cen":43.2,"tot":44.5,"net":44.5},
{"p":"D","x":235,"emp":0,"sal":1.3,"cen":39.7,"tot":41,"net":41},
{"p":"D","x":236.8,"emp":0,"sal":1.3,"cen":43.2,"tot":44.5,"net":44.5},
{"p":"D","x":238.7,"emp":0,"sal":1.3,"cen":39.7,"tot":41,"net":41},
{"p":"D","x":240.6,"emp":0,"sal":1.3,"cen":43.2,"tot":44.5,"net":44.5},
{"p":"D","x":242.5,"emp":0,"sal":1.3,"cen":39.7,"tot":41,"net":41},
{"p":"D","x":244.4,"emp":0,"sal":1.3,"cen":43.2,"tot":44.5,"net":44.5},
{"p":"D","x":246.3,"emp":0,"sal":1.3,"cen":39.7,"tot":41,"net":41},
{"p":"D","x":248.2,"emp":0,"sal":1.3,"cen":43.2,"tot":44.5,"net":44.5},
{"p":"D","x":250,"emp":0,"sal":1.3,"cen":40.2,"tot":41.5,"net":41.5}
]},
"columns": 2,
"spacing": {"row": 83, "column": 105},
"bounds": "flush",
"concat": [
{"title": "Célibataire 0 enfant", "width": 530, "height": 227, "data": {"name": "d"},
 "transform": [{"filter": "datum.p == 'A'"}],
 "resolve": {"axis": {"x": "independent", "y": "independent"}},
 "layer": [
  {"transform": [{"fold": ["emp","sal","cen"], "as": ["k","v"]},
    {"lookup": "k", "from": {"data": {"values": [{"k":"emp","serie":"CSS des employeurs, marginal","o":1},{"k":"sal","serie":"CSS des salariés, marginal","o":2},{"k":"cen","serie":"Impôt sur le revenu marginal au niveau central","o":3}]}, "key": "k", "fields": ["serie","o"]}}],
   "mark": {"type": "area", "stroke": "#8fb9dd", "strokeWidth": 1, "opacity": 1},
   "encoding": {
    "x": {"field": "x", "type": "quantitative", "scale": {"domain": [50,250], "nice": false, "zero": false}, "axis": {"orient":"bottom","values":[50,60,70,80,90,100,110,120,130,140,150,160,170,180,190,200,210,220,230,240,250],"grid":true,"gridColor":"#ffffff","gridWidth":1.5,"labels":false,"ticks":false,"domain":false,"title":null,"zindex":0,"minExtent":0,"maxExtent":0}},
    "y": {"field": "v", "type": "quantitative", "stack": "zero", "scale": {"domain": [0,70], "nice": false}, "axis": {"orient":"left","values":[0,10,20,30,40,50,60,70],"grid":true,"gridColor":"#ffffff","gridWidth":1.5,"labels":false,"ticks":false,"domain":false,"title":null,"zindex":0,"minExtent":0,"maxExtent":0}},
    "fill": {"field": "serie", "type": "nominal",
      "scale": {"domain": ["CSS des employeurs, marginal","Impôt sur le revenu marginal au niveau central","CSS des salariés, marginal","Prestations familiales, marginal","Impôt sur le revenu marginal au niveau local"],
               "range": ["#4a86c8","#a0a1a5","#c7c8ca","#ffffff","#0b6cb5"]},
      "legend": {"title": [" "," "," "], "titleOrient": "left", "titlePadding": 25, "titleLineHeight": 28, "titleFontSize": 17, "orient": "none", "legendX": -46, "legendY": -136, "columns": 3, "columnPadding": 47, "rowPadding": 5, "padding": 11, "fillColor": "#e6e7e8", "symbolType": "M-2.14,-1H2.14V1H-2.14Z", "symbolSize": 196, "symbolStrokeColor": "#3a3a3a", "symbolStrokeWidth": 1, "symbolOffset": 7, "labelOffset": 22}},
    "order": {"field": "o", "type": "quantitative"}}},
  {"transform": [{"fold": ["net","tot"], "as": ["k2","v2"]},
    {"lookup": "k2", "from": {"data": {"values": [{"k2":"net","serie2":"Taux d’imposition marginal net"},{"k2":"tot","serie2":"Coin fiscal marginal (somme des composantes)"}]}, "key": "k2", "fields": ["serie2"]}}],
   "mark": {"type": "line", "stroke": "#1a1a1a", "strokeWidth": 3},
   "encoding": {
    "x": {"field": "x", "type": "quantitative", "axis": {"orient":"bottom","values":[50,60,70,80,90,100,110,120,130,140,150,160,170,180,190,200,210,220,230,240,250],"grid":false,"domain":false,"tickSize":-7,"tickWidth":1.5,"tickColor":"#231f20","labelAngle":-45,"labelAlign":"right","labelBaseline":"middle","labelPadding":12,"labelFontSize":16,"labelFlush":false,"labelOverlap":false,"labelBound":false,"title":null,"zindex":1}},
    "y": {"field": "v2", "type": "quantitative", "axis": {"orient":"left","values":[0,10,20,30,40,50,60,70],"grid":false,"domain":false,"tickSize":-7,"tickWidth":1.5,"tickColor":"#231f20","labelPadding":20,"labelFontSize":16.5,"labelFlush":false,"labelBound":false,"title":"%","titleAngle":0,"titleX":-23,"titleY":-15,"titleAlign":"center","titleBaseline":"alphabetic","titleFontSize":15,"titleFontWeight":"normal","zindex":1}},
    "strokeDash": {"field": "serie2", "type": "nominal", "scale": {"domain": ["Coin fiscal marginal (somme des composantes)","Taux d’imposition marginal net"], "range": [[1,0],[8,4]]},
      "legend": {"title": null, "orient": "none", "legendX": -10, "legendY": -77.5, "columns": 2, "columnPadding": 327, "padding": 0, "symbolType": "M-4.86,0H4.86", "symbolSize": 196, "symbolStrokeColor": "#1a1a1a", "symbolStrokeWidth": 3, "symbolFillColor": "transparent", "symbolOffset": 27.5, "labelOffset": 40}}}},
  {"transform": [{"filter": "false"}],
   "mark": {"type": "square", "filled": true, "fill": "#ffffff", "strokeWidth": 1},
   "encoding": {
    "x": {"field": "x", "type": "quantitative", "axis": null},
    "y": {"field": "tot", "type": "quantitative", "axis": null},
    "stroke": {"field": "p", "type": "nominal", "scale": {"domain": ["Prestations familiales, marginal"], "range": ["#3a3a3a"]},
      "legend": {"title": null, "orient": "none", "legendX": 438.5, "legendY": -102.5, "padding": 0, "symbolType": "M-2.14,-1H2.14V1H-2.14Z M-2.14,0.3L-1.5,-1 M-1.5,1L-0.5,-1 M-0.6,1L0.4,-1 M0.3,1L1.3,-1 M1.2,1L2.14,-0.9", "symbolSize": 196, "symbolStrokeWidth": 1, "symbolFillColor": "#ffffff", "symbolOffset": 0, "labelExpr": "''"}}}}
 ]},
{"title": "Parent isolé avec 2 enfants", "width": 530, "height": 227, "data": {"name": "d"},
 "transform": [{"filter": "datum.p == 'B'"}],
 "resolve": {"axis": {"x": "independent", "y": "independent"}},
 "layer": [
  {"transform": [{"fold": ["emp","sal","cen"], "as": ["k","v"]},
    {"lookup": "k", "from": {"data": {"values": [{"k":"emp","serie":"CSS des employeurs, marginal","o":1},{"k":"sal","serie":"CSS des salariés, marginal","o":2},{"k":"cen","serie":"Impôt sur le revenu marginal au niveau central","o":3}]}, "key": "k", "fields": ["serie","o"]}}],
   "mark": {"type": "area", "stroke": "#8fb9dd", "strokeWidth": 1, "opacity": 1},
   "encoding": {
    "x": {"field": "x", "type": "quantitative", "scale": {"domain": [50,250], "nice": false, "zero": false}, "axis": {"orient":"bottom","values":[50,60,70,80,90,100,110,120,130,140,150,160,170,180,190,200,210,220,230,240,250],"grid":true,"gridColor":"#ffffff","gridWidth":1.5,"labels":false,"ticks":false,"domain":false,"title":null,"zindex":0,"minExtent":0,"maxExtent":0}},
    "y": {"field": "v", "type": "quantitative", "stack": "zero", "scale": {"domain": [0,70], "nice": false}, "axis": {"orient":"left","values":[0,10,20,30,40,50,60,70],"grid":true,"gridColor":"#ffffff","gridWidth":1.5,"labels":false,"ticks":false,"domain":false,"title":null,"zindex":0,"minExtent":0,"maxExtent":0}},
    "fill": {"field": "serie", "type": "nominal",
      "scale": {"domain": ["CSS des employeurs, marginal","Impôt sur le revenu marginal au niveau central","CSS des salariés, marginal","Prestations familiales, marginal","Impôt sur le revenu marginal au niveau local"],
               "range": ["#4a86c8","#a0a1a5","#c7c8ca","#ffffff","#0b6cb5"]},
      "legend": {"title": [" "," "," "], "titleOrient": "left", "titlePadding": 25, "titleLineHeight": 28, "titleFontSize": 17, "orient": "none", "legendX": -46, "legendY": -136, "columns": 3, "columnPadding": 47, "rowPadding": 5, "padding": 11, "fillColor": "#e6e7e8", "symbolType": "M-2.14,-1H2.14V1H-2.14Z", "symbolSize": 196, "symbolStrokeColor": "#3a3a3a", "symbolStrokeWidth": 1, "symbolOffset": 7, "labelOffset": 22}},
    "order": {"field": "o", "type": "quantitative"}}},
  {"transform": [{"fold": ["net","tot"], "as": ["k2","v2"]},
    {"lookup": "k2", "from": {"data": {"values": [{"k2":"net","serie2":"Taux d’imposition marginal net"},{"k2":"tot","serie2":"Coin fiscal marginal (somme des composantes)"}]}, "key": "k2", "fields": ["serie2"]}}],
   "mark": {"type": "line", "stroke": "#1a1a1a", "strokeWidth": 3},
   "encoding": {
    "x": {"field": "x", "type": "quantitative", "axis": {"orient":"bottom","values":[50,60,70,80,90,100,110,120,130,140,150,160,170,180,190,200,210,220,230,240,250],"grid":false,"domain":false,"tickSize":-7,"tickWidth":1.5,"tickColor":"#231f20","labelAngle":-45,"labelAlign":"right","labelBaseline":"middle","labelPadding":12,"labelFontSize":16,"labelFlush":false,"labelOverlap":false,"labelBound":false,"title":null,"zindex":1}},
    "y": {"field": "v2", "type": "quantitative", "axis": {"orient":"left","values":[0,10,20,30,40,50,60,70],"grid":false,"domain":false,"tickSize":-7,"tickWidth":1.5,"tickColor":"#231f20","labelPadding":20,"labelFontSize":16.5,"labelFlush":false,"labelBound":false,"title":"%","titleAngle":0,"titleX":-23,"titleY":-15,"titleAlign":"center","titleBaseline":"alphabetic","titleFontSize":15,"titleFontWeight":"normal","zindex":1}},
    "strokeDash": {"field": "serie2", "type": "nominal", "scale": {"domain": ["Coin fiscal marginal (somme des composantes)","Taux d’imposition marginal net"], "range": [[1,0],[8,4]]},
      "legend": {"title": null, "orient": "none", "legendX": -10, "legendY": -77.5, "columns": 2, "columnPadding": 327, "padding": 0, "symbolType": "M-4.86,0H4.86", "symbolSize": 196, "symbolStrokeColor": "#1a1a1a", "symbolStrokeWidth": 3, "symbolFillColor": "transparent", "symbolOffset": 27.5, "labelOffset": 40}}}},
  {"transform": [{"filter": "false"}],
   "mark": {"type": "square", "filled": true, "fill": "#ffffff", "strokeWidth": 1},
   "encoding": {
    "x": {"field": "x", "type": "quantitative", "axis": null},
    "y": {"field": "tot", "type": "quantitative", "axis": null},
    "stroke": {"field": "p", "type": "nominal", "scale": {"domain": ["Prestations familiales, marginal"], "range": ["#3a3a3a"]},
      "legend": {"title": null, "orient": "none", "legendX": 438.5, "legendY": -102.5, "padding": 0, "symbolType": "M-2.14,-1H2.14V1H-2.14Z M-2.14,0.3L-1.5,-1 M-1.5,1L-0.5,-1 M-0.6,1L0.4,-1 M0.3,1L1.3,-1 M1.2,1L2.14,-0.9", "symbolSize": 196, "symbolStrokeWidth": 1, "symbolFillColor": "#ffffff", "symbolOffset": 0, "labelExpr": "''"}}}}
 ]},
{"title": "Couple marié sans enfant disposant d’un seul salaire", "width": 530, "height": 227, "data": {"name": "d"},
 "transform": [{"filter": "datum.p == 'C'"}],
 "resolve": {"axis": {"x": "independent", "y": "independent"}},
 "layer": [
  {"transform": [{"fold": ["emp","sal","cen"], "as": ["k","v"]},
    {"lookup": "k", "from": {"data": {"values": [{"k":"emp","serie":"CSS des employeurs, marginal","o":1},{"k":"sal","serie":"CSS des salariés, marginal","o":2},{"k":"cen","serie":"Impôt sur le revenu marginal au niveau central","o":3}]}, "key": "k", "fields": ["serie","o"]}}],
   "mark": {"type": "area", "stroke": "#8fb9dd", "strokeWidth": 1, "opacity": 1},
   "encoding": {
    "x": {"field": "x", "type": "quantitative", "scale": {"domain": [50,250], "nice": false, "zero": false}, "axis": {"orient":"bottom","values":[50,60,70,80,90,100,110,120,130,140,150,160,170,180,190,200,210,220,230,240,250],"grid":true,"gridColor":"#ffffff","gridWidth":1.5,"labels":false,"ticks":false,"domain":false,"title":null,"zindex":0,"minExtent":0,"maxExtent":0}},
    "y": {"field": "v", "type": "quantitative", "stack": "zero", "scale": {"domain": [0,70], "nice": false}, "axis": {"orient":"left","values":[0,10,20,30,40,50,60,70],"grid":true,"gridColor":"#ffffff","gridWidth":1.5,"labels":false,"ticks":false,"domain":false,"title":null,"zindex":0,"minExtent":0,"maxExtent":0}},
    "fill": {"field": "serie", "type": "nominal",
      "scale": {"domain": ["CSS des employeurs, marginal","Impôt sur le revenu marginal au niveau central","CSS des salariés, marginal","Prestations familiales, marginal","Impôt sur le revenu marginal au niveau local"],
               "range": ["#4a86c8","#a0a1a5","#c7c8ca","#ffffff","#0b6cb5"]},
      "legend": {"title": [" "," "," "], "titleOrient": "left", "titlePadding": 25, "titleLineHeight": 28, "titleFontSize": 17, "orient": "none", "legendX": -46, "legendY": -136, "columns": 3, "columnPadding": 47, "rowPadding": 5, "padding": 11, "fillColor": "#e6e7e8", "symbolType": "M-2.14,-1H2.14V1H-2.14Z", "symbolSize": 196, "symbolStrokeColor": "#3a3a3a", "symbolStrokeWidth": 1, "symbolOffset": 7, "labelOffset": 22}},
    "order": {"field": "o", "type": "quantitative"}}},
  {"transform": [{"fold": ["net","tot"], "as": ["k2","v2"]},
    {"lookup": "k2", "from": {"data": {"values": [{"k2":"net","serie2":"Taux d’imposition marginal net"},{"k2":"tot","serie2":"Coin fiscal marginal (somme des composantes)"}]}, "key": "k2", "fields": ["serie2"]}}],
   "mark": {"type": "line", "stroke": "#1a1a1a", "strokeWidth": 3},
   "encoding": {
    "x": {"field": "x", "type": "quantitative", "axis": {"orient":"bottom","values":[50,60,70,80,90,100,110,120,130,140,150,160,170,180,190,200,210,220,230,240,250],"grid":false,"domain":false,"tickSize":-7,"tickWidth":1.5,"tickColor":"#231f20","labelAngle":-45,"labelAlign":"right","labelBaseline":"middle","labelPadding":12,"labelFontSize":16,"labelFlush":false,"labelOverlap":false,"labelBound":false,"title":null,"zindex":1}},
    "y": {"field": "v2", "type": "quantitative", "axis": {"orient":"left","values":[0,10,20,30,40,50,60,70],"grid":false,"domain":false,"tickSize":-7,"tickWidth":1.5,"tickColor":"#231f20","labelPadding":20,"labelFontSize":16.5,"labelFlush":false,"labelBound":false,"title":"%","titleAngle":0,"titleX":-23,"titleY":-15,"titleAlign":"center","titleBaseline":"alphabetic","titleFontSize":15,"titleFontWeight":"normal","zindex":1}},
    "strokeDash": {"field": "serie2", "type": "nominal", "scale": {"domain": ["Coin fiscal marginal (somme des composantes)","Taux d’imposition marginal net"], "range": [[1,0],[8,4]]},
      "legend": {"title": null, "orient": "none", "legendX": -10, "legendY": -77.5, "columns": 2, "columnPadding": 327, "padding": 0, "symbolType": "M-4.86,0H4.86", "symbolSize": 196, "symbolStrokeColor": "#1a1a1a", "symbolStrokeWidth": 3, "symbolFillColor": "transparent", "symbolOffset": 27.5, "labelOffset": 40}}}},
  {"transform": [{"filter": "false"}],
   "mark": {"type": "square", "filled": true, "fill": "#ffffff", "strokeWidth": 1},
   "encoding": {
    "x": {"field": "x", "type": "quantitative", "axis": null},
    "y": {"field": "tot", "type": "quantitative", "axis": null},
    "stroke": {"field": "p", "type": "nominal", "scale": {"domain": ["Prestations familiales, marginal"], "range": ["#3a3a3a"]},
      "legend": {"title": null, "orient": "none", "legendX": 438.5, "legendY": -102.5, "padding": 0, "symbolType": "M-2.14,-1H2.14V1H-2.14Z M-2.14,0.3L-1.5,-1 M-1.5,1L-0.5,-1 M-0.6,1L0.4,-1 M0.3,1L1.3,-1 M1.2,1L2.14,-0.9", "symbolSize": 196, "symbolStrokeWidth": 1, "symbolFillColor": "#ffffff", "symbolOffset": 0, "labelExpr": "''"}}}}
 ]},
{"title": "Couple marié avec 2 enfants, disposant d’un seul salaire", "width": 530, "height": 227, "data": {"name": "d"},
 "transform": [{"filter": "datum.p == 'D'"}],
 "resolve": {"axis": {"x": "independent", "y": "independent"}},
 "layer": [
  {"transform": [{"fold": ["emp","sal","cen"], "as": ["k","v"]},
    {"lookup": "k", "from": {"data": {"values": [{"k":"emp","serie":"CSS des employeurs, marginal","o":1},{"k":"sal","serie":"CSS des salariés, marginal","o":2},{"k":"cen","serie":"Impôt sur le revenu marginal au niveau central","o":3}]}, "key": "k", "fields": ["serie","o"]}}],
   "mark": {"type": "area", "stroke": "#8fb9dd", "strokeWidth": 1, "opacity": 1},
   "encoding": {
    "x": {"field": "x", "type": "quantitative", "scale": {"domain": [50,250], "nice": false, "zero": false}, "axis": {"orient":"bottom","values":[50,60,70,80,90,100,110,120,130,140,150,160,170,180,190,200,210,220,230,240,250],"grid":true,"gridColor":"#ffffff","gridWidth":1.5,"labels":false,"ticks":false,"domain":false,"title":null,"zindex":0,"minExtent":0,"maxExtent":0}},
    "y": {"field": "v", "type": "quantitative", "stack": "zero", "scale": {"domain": [0,70], "nice": false}, "axis": {"orient":"left","values":[0,10,20,30,40,50,60,70],"grid":true,"gridColor":"#ffffff","gridWidth":1.5,"labels":false,"ticks":false,"domain":false,"title":null,"zindex":0,"minExtent":0,"maxExtent":0}},
    "fill": {"field": "serie", "type": "nominal",
      "scale": {"domain": ["CSS des employeurs, marginal","Impôt sur le revenu marginal au niveau central","CSS des salariés, marginal","Prestations familiales, marginal","Impôt sur le revenu marginal au niveau local"],
               "range": ["#4a86c8","#a0a1a5","#c7c8ca","#ffffff","#0b6cb5"]},
      "legend": {"title": [" "," "," "], "titleOrient": "left", "titlePadding": 25, "titleLineHeight": 28, "titleFontSize": 17, "orient": "none", "legendX": -46, "legendY": -136, "columns": 3, "columnPadding": 47, "rowPadding": 5, "padding": 11, "fillColor": "#e6e7e8", "symbolType": "M-2.14,-1H2.14V1H-2.14Z", "symbolSize": 196, "symbolStrokeColor": "#3a3a3a", "symbolStrokeWidth": 1, "symbolOffset": 7, "labelOffset": 22}},
    "order": {"field": "o", "type": "quantitative"}}},
  {"transform": [{"fold": ["net","tot"], "as": ["k2","v2"]},
    {"lookup": "k2", "from": {"data": {"values": [{"k2":"net","serie2":"Taux d’imposition marginal net"},{"k2":"tot","serie2":"Coin fiscal marginal (somme des composantes)"}]}, "key": "k2", "fields": ["serie2"]}}],
   "mark": {"type": "line", "stroke": "#1a1a1a", "strokeWidth": 3},
   "encoding": {
    "x": {"field": "x", "type": "quantitative", "axis": {"orient":"bottom","values":[50,60,70,80,90,100,110,120,130,140,150,160,170,180,190,200,210,220,230,240,250],"grid":false,"domain":false,"tickSize":-7,"tickWidth":1.5,"tickColor":"#231f20","labelAngle":-45,"labelAlign":"right","labelBaseline":"middle","labelPadding":12,"labelFontSize":16,"labelFlush":false,"labelOverlap":false,"labelBound":false,"title":null,"zindex":1}},
    "y": {"field": "v2", "type": "quantitative", "axis": {"orient":"left","values":[0,10,20,30,40,50,60,70],"grid":false,"domain":false,"tickSize":-7,"tickWidth":1.5,"tickColor":"#231f20","labelPadding":20,"labelFontSize":16.5,"labelFlush":false,"labelBound":false,"title":"%","titleAngle":0,"titleX":-23,"titleY":-15,"titleAlign":"center","titleBaseline":"alphabetic","titleFontSize":15,"titleFontWeight":"normal","zindex":1}},
    "strokeDash": {"field": "serie2", "type": "nominal", "scale": {"domain": ["Coin fiscal marginal (somme des composantes)","Taux d’imposition marginal net"], "range": [[1,0],[8,4]]},
      "legend": {"title": null, "orient": "none", "legendX": -10, "legendY": -77.5, "columns": 2, "columnPadding": 327, "padding": 0, "symbolType": "M-4.86,0H4.86", "symbolSize": 196, "symbolStrokeColor": "#1a1a1a", "symbolStrokeWidth": 3, "symbolFillColor": "transparent", "symbolOffset": 27.5, "labelOffset": 40}}}},
  {"transform": [{"filter": "false"}],
   "mark": {"type": "square", "filled": true, "fill": "#ffffff", "strokeWidth": 1},
   "encoding": {
    "x": {"field": "x", "type": "quantitative", "axis": null},
    "y": {"field": "tot", "type": "quantitative", "axis": null},
    "stroke": {"field": "p", "type": "nominal", "scale": {"domain": ["Prestations familiales, marginal"], "range": ["#3a3a3a"]},
      "legend": {"title": null, "orient": "none", "legendX": 438.5, "legendY": -102.5, "padding": 0, "symbolType": "M-2.14,-1H2.14V1H-2.14Z M-2.14,0.3L-1.5,-1 M-1.5,1L-0.5,-1 M-0.6,1L0.4,-1 M0.3,1L1.3,-1 M1.2,1L2.14,-0.9", "symbolSize": 196, "symbolStrokeWidth": 1, "symbolFillColor": "#ffffff", "symbolOffset": 0, "labelExpr": "''"}}}}
 ]}
],
"config": {
 "font": "Liberation Sans, Arial, sans-serif",
 "view": {"fill": "#e9eef7", "stroke": "#231f20", "strokeWidth": 2.5},
 "title": {"font": "Liberation Sans, Arial, sans-serif", "fontSize": 16.5, "fontWeight": "bold", "color": "#231f20", "offset": -17, "anchor": "middle", "frame": "group"},
 "axis": {"labelFont": "Liberation Sans, Arial, sans-serif", "titleFont": "Liberation Sans, Arial, sans-serif", "labelColor": "#231f20", "titleColor": "#231f20"},
 "legend": {"labelFont": "Liberation Sans, Arial, sans-serif", "labelFontSize": 17, "labelColor": "#231f20", "labelLimit": 800, "gridAlign": "each"}
}
}
